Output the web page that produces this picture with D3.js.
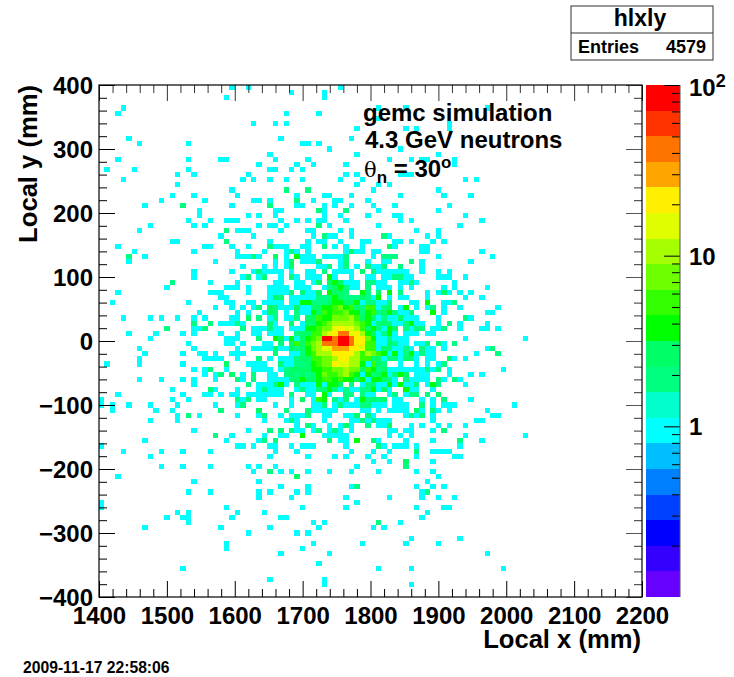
<!DOCTYPE html>
<html>
<head>
<meta charset="utf-8">
<script src="https://cdn.jsdelivr.net/npm/d3@7"></script>
<style>
  html, body { margin: 0; padding: 0; background: #fff; }
  text { font-family: "Liberation Sans", Arial, sans-serif; font-weight: bold; fill: #000; }
</style>
</head>
<body>
<svg id="visualization" width="734" height="677"></svg>
<script>
// histogram is 100 x 100 bins, 8 mm each way
var nBins = 100;
var xRange = [1400, 2200];
var yRange = [-400, 400];
var zRange = [0.1, 100];

var xMajorTicks = [1400, 1500, 1600, 1700, 1800, 1900, 2000, 2100, 2200];
var yMajorTicks = [-400, -300, -200, -100, 0, 100, 200, 300, 400];
var zMajorTicks = [1, 10];
var zMinorTicks = [0.2, 0.3, 0.4, 0.5, 0.6, 0.7, 0.8, 0.9, 2, 3, 4, 5, 6, 7, 8, 9, 20, 30, 40, 50, 60, 70, 80, 90];

// bottom to top of the palette
var paletteColors = [
  "#6600ff", "#3300ff", "#0000ff", "#0040ff", "#0080ff", "#00bfff", "#00ffff",
  "#00ffcc", "#00ff80", "#00ff66", "#00ff00", "#33ff00", "#6eff00", "#a5ff00",
  "#dfff00", "#ffef00", "#ffa500", "#ff7300", "#ff3300", "#ff0000"
];

// one string per row from the top (y = 400 downward)
// each token is a column index, "col:n" when the bin holds more than one entry
var binRows = [
  "24 27 44",
  "35 41",
  "23 41",
  "",
  "4 51 56 71",
  "3 34 40",
  "51",
  "28 32 34 64",
  "47 56 58 64",
  "",
  "5 33 46",
  "7 16 37 38 40",
  "42 55",
  "31 47 62",
  "3 16 22 23 32 38 53 57 59 60 65",
  "29 36 39 45 65",
  "1 6 16 31 32 35 37",
  "14 17 27 45 47 55 56 57",
  "4 26 28 31 34 37 44 48 67 69",
  "14 47 51 53",
  "24 34:2 38:2 50 62",
  "13 17 25 36 41 42 46 55 63 68",
  "11 19 28 29 31 36:2 39 43 44 49",
  "8 15:2 24 31:2 36 37 41 43 46 50 54 64",
  "18 32 33 40:2 41 45:2 51 62",
  "18 27 29 32 41 44 49 54 55 67",
  "16 20 23 24 25 33 36 38 40 41 45 55 57 70",
  "9 17 19 29 31 32 34 40:2 42 51 66",
  "7 23:2 25 26 27 33 38 39 44 46 58 62",
  "22 28 39 41:2 42 43 46 52:2 53 60 62",
  "13 14 23:2 31 38 40 41 44 48 49 54 55 57 61 63",
  "3 19 20 24 27 31:2 32 33 34 37 38 41:2 43 45 48 53:3 54 59 60",
  "6 17 25 30 34 35:2 36 38 45 46:3 47 48 50 51 59 60 70",
  "5:2 8 25 26 27 28:2 29 32:3 34 36:4 37 38 39 41 42 43 44 45:2 50 52:2 53:2 54:2 62 72",
  "5 21 32 34 35:3 37 38 39 40:2 44 45:2 49 52 53 57:2 59 68",
  "26 30 32 34 35:3 40 41 42:2 44 45:2 47 49:2 50 51 52:2 55:2 59",
  "17 24 28 29:2 30 31 32 33 35 38 39 41:2 43 44 45 46 48:3 50:2 51 52 53 54 55 56 59 62 64",
  "17 26 27:2 29 30:2 33 35:2 36 38 39 40 42:4 43 46 49 50 52 53 54:2 55:2 56 57 62 63 64 67",
  "13:2 20 25 32 33 36 37 39 40:3 42:3 43:4 44:3 45 46 47 49:2 50:2 51 52 55 56 57:2 58 65",
  "12 23 24 25 27 31 32 33 34 36 37 38 41 42:2 43:3 44:4 45:2 46 47 49:2 51 52 53 55 57 63 65 71",
  "3 20 21 22 27 31 32 33 34 35:2 37:2 38 39 40:3 42:4 43:3 44:3 45:2 48:4 49:2 51:3 53:4 55:2 60 62 63:3 64 66 68",
  "22 23 31 32:3 33:2 35 36 37 38 39 40:2 41:2 42:2 43:4 44:3 45:2 46:2 47:2 48:3 49:2 50 51:4 53 55 56 60 67 70",
  "2 16 23 24 27 28 30 31 32 33 35 36 37:4 38:4 39:2 40:2 41:2 42:3 43:4 44:4 45:3 46:3 47:4 48 49:2 50:2 51 52 53:2 57 58 60:4 63 64 65:2",
  "21 24 26 28 29:2 31:3 32:2 33 34 35 36:3 37 38 39:3 40:3 41:4 42:4 43:5 44:7 45:4 46:5 47:3 48:2 49:5 50:6 51 52:2 53:3 55 56:4 58 60 61:2 63 66 73",
  "18 25 27 30 31:3 32:2 34 36:2 37 38 39:4 40:3 41:5 42:4 43:6 44:5 45:8 46:4 47:4 48:2 49:4 50:5 51:2 52:3 53:4 54:2 55 56 57:2 61:4 63 71 72",
  "4 9 11 14 17 19 24 25 27:3 29:2 31 32:2 34 35 36:2 38:3 39:3 40:5 41:4 42:4 43:7 44:7 45:8 46:9 47:5 48:3 49:4 50:3 51 52:2 53 54 55:3 56 57 58 62 67:2 68",
  "17:2 20:2 22 23 24 25:2 26 31:2 32 35:3 37 38:3 39:3 40:4 41:5 42:8 43:9 44:9 45:11 46:9 47:7 48:5 49:4 50 51:2 52:3 53:2 54 55 56:2 57:4 58 59 62 64:2 66 71",
  "12:2 17 18 19:2 26:2 28 29 30 31:2 32 33 35 36 37 38:4 39:4 40:5 41:7 42:8 43:14 44:18 45:13 46:14 47:10 48:6 49:3 50:4 51:2 52 53:4 54:3 56:2 57 58:2 59:2 61 62 63:2 66 70 71 73",
  "5 10 15 17 22 25 28 29 31 32 33 36:2 37:3 38:3 39:5 40:6 41:10 42:14 43:20 44:38 45:38 46:16 47:20 48:12 49:4 50:3 51 52:2 53:4 54 56 57 58 60 61",
  "9 23 24 25 29:2 32:4 33:3 34 35:4 36 37:3 38:4 39:6 40:8 41:80 42:80 43:40 44:80 45:80 46:40 47:20 48:19 49:7 50:4 51 52 53:2 54 55 56 67 78",
  "16 23 24 26 30 31 33:2 35:3 36:5 37:3 38:5 39:7 40:12 41:40 42:40 43:45 44:80 45:80 46:38 47:18 48:18 49:6 50:5 51 52 53:3 54:2 55 56 58 59 60:2 62:2 63 65:2",
  "7 17 25 28 29 30 31 32:3 33 34 35:3 36:2 37:3 38:4 39:7 40:9 41:14 42:14 43:28 44:28 45:30 46:20 47:19 48:15 49:5 50:6 51 52:3 53:2 54 55 56:2 57 59:2 60 61 63 71 72:2",
  "8 15 18 19 21 24 25 26 32:2 35 36 37:2 38:4 39:6 40:9 41:9 42:12 43:20 44:20 45:19 46:20 47:12 48:5 49:9 50:7 51:5 52:4 53 54:4 55 56:2 57:4 58 59:2 60 61 69 73:2",
  "7 19 20 21 22 25 29:2 31 33 34 35 36:2 37:3 38:3 39:5 40:5 41:7 42:8 43:10 44:19 45:19 46:9 47:10 48:5 49:5 50:3 51:3 52 53:2 54:2 55 56:3 57:2 58 60 61 64:3 65 67",
  "1 7 15 23:3 27 28 29 30 33:2 34 35 36:2 37:2 38:3 39:4 40:5 41:7 42:8 43:19 44:14 45:14 46:9 47:10 48:4 49 50:5 51:3 52:2 55 58 60 62 63:2",
  "17 19 20:2 23 28 29 30 31 33 34:2 35:3 36:3 37:3 38:3 39:4 40:4 41:5 42:5 43:8 44:7 45:10 46:7 47:7 48:3 49:5 50:4 51:2 52:3 53 54 55 56 57 58 59 60:2 61 62:2 64 74",
  "19 21 22:2 24:3 26 28:2 31 32 34:2 35:3 36:2 37:3 38:2 39:3 40:4 41:7 42:5 43:5 44:7 45:9 46:5 47:4 48 49:4 50:2 51:3 52:4 53 54:2 55:4 56:3 58 59 60 64 68 70",
  "7 11 15 17 21 25:2 26 28:2 31 32 33 34 35:2 36:3 37:4 38:3 39:3 40:4 41:5 42:6 43:4 44:6 45:4 46:4 47:3 48:4 49 50:4 51:4 52:3 53:2 54 56:2 57 58 59 60 62:2 63 65:2 66",
  "17 27:2 29 30 31 32:2 33:4 34 36:2 37 38 39 40:4 41 42:4 43:4 44:3 46:2 48 49:2 50:3 51 52 53:4 54 55:4 56 57 58:2 60 61:4 62:2 67",
  "13 20:2 21 25 29 30:2 31 32 33 36 37:2 38 39 40:2 41:3 42:4 43:2 44 45:2 46 47 48:2 49:2 50:4 51 52:3 53 56:4 57 58 61",
  "3 15 19 20 22 24 25 27 28 29 30 31 32 33 35:2 38 39 41:4 42 45:2 46:2 48:2 49 50 53 54:2 56 57:2 58:2 60:2 62:3",
  "0 13 16 25:2 26 27:2 29 30 35 37:3 39 40:5 41:4 43:2 44 45:2 47 48:4 49:2 50:3 51:2 52:3 54 55 59 61 63:2 68",
  "0 2 5 9 14 21 25 26:2 32 35 39 40 41:2 43 44:2 45 46 47 48:2 49:2 50 51 52 54 55 56 59:2 61 63 64 65 76",
  "2 10 13 22:2 29:3 34:2 38:2 39 40 41 42 43 48 49 51 53 54 55 56 58:3 59 61:2 62 64 71",
  "14 16:2 18 25 29 30:2 33 35 36 37 38:2 41 42 45 46 47:3 49:2 50 56 57:2 58 59:2 61 72 73",
  "9 14 30 34 35:2 36 41 46 47 48:2 49 50:2 51 52 53 61 69 70",
  "36 38:2 39 42 44 45:3 46 49:2 51 52 53:3 57 59 62 64 67",
  "17 27 31:2 33:2 35:2 36 37 39 40:2 42 43:2 44 46 53 54 56 57 61 63:2",
  "21:2 24 30 33 34 37:4 41 42 43 44 45 53 55 57 67 78",
  "8 23 29 30:2 32:2 42:2 44 45 47:4 50:2 51 56 61 66:2 70",
  "0 25 26 28 31 32 35 37 38 39 45 51:2 52 54 55 56 58 66",
  "4 11 15 20 32 36 46 50 53 58:2 61 62 63 64",
  "9 31 38 43 45 49 52 58 65 66",
  "50 53 56:3 61",
  "11 15 20 27 29 32 47 56:2",
  "28 31:2 33 35 38 42 46 51 58 61",
  "3 36:3 62",
  "17 29 60",
  "33 38 46 47:2 58 61 63",
  "16 20 29 31 36 38 59 60:2",
  "29 35 45 53 59 62 65",
  "0 47",
  "0 23 37 45 58 63 64",
  "14 16 25 30 60",
  "12 15 16 24 33 34 59",
  "16 39 41 51:2 55",
  "8 22 31 40 50 52",
  "27 36 38",
  "57 66",
  "23 39 48 56 62",
  "23 37",
  "33 42 71",
  "",
  "40",
  "15 51 57 74",
  "",
  "31 41",
  "41 57",
  "",
  ""
];

var svg = d3.select("#visualization");

// frame and palette geometry in page pixels
var plot = { left: 99, right: 642, top: 85, bottom: 597 };
var pal = { left: 646, right: 680 };

var xScale = d3.scaleLinear().domain(xRange).range([plot.left, plot.right]);
var yScale = d3.scaleLinear().domain(yRange).range([plot.bottom, plot.top]);
var zScale = d3.scaleLog().domain(zRange).range([plot.bottom, plot.top]);

// 20 contours, even in log z
var colorScale = d3.scaleQuantize()
  .domain([Math.log10(zRange[0]), Math.log10(zRange[1])])
  .range(paletteColors);

var xBin = (xRange[1] - xRange[0]) / nBins;
var yBin = (yRange[1] - yRange[0]) / nBins;

// unpack the rows into bins
var bins = [];
binRows.forEach(function(row, r) {
  if (row == "") return;
  row.split(" ").forEach(function(token) {
    var parts = token.split(":");
    bins.push({
      x0: xRange[0] + (+parts[0]) * xBin,
      y1: yRange[1] - r * yBin,
      count: parts.length > 1 ? +parts[1] : 1
    });
  });
});

// white background
svg.append("rect").attr("width", 734).attr("height", 677).attr("fill", "#fff");

// the cells
svg.append("g").attr("shape-rendering", "crispEdges")
  .selectAll("rect").data(bins).enter().append("rect")
  .attr("x", function(d) { return xScale(d.x0); })
  .attr("y", function(d) { return yScale(d.y1); })
  .attr("width", function(d) { return xScale(d.x0 + xBin) - xScale(d.x0); })
  .attr("height", function(d) { return yScale(d.y1 - yBin) - yScale(d.y1); })
  .attr("fill", function(d) { return colorScale(Math.log10(d.count)); });

// palette bands
var logStep = 3 / paletteColors.length;
svg.append("g").attr("shape-rendering", "crispEdges")
  .selectAll("rect").data(paletteColors).enter().append("rect")
  .attr("x", pal.left)
  .attr("width", pal.right - pal.left)
  .attr("y", function(d, i) { return zScale(Math.pow(10, -1 + (i + 1) * logStep)); })
  .attr("height", function(d, i) {
    return zScale(Math.pow(10, -1 + i * logStep)) - zScale(Math.pow(10, -1 + (i + 1) * logStep));
  })
  .attr("fill", function(d) { return d; });

// returns every 20 mm between major ticks
function minorTicks(domain) {
  var out = [];
  for (var v = domain[0]; v <= domain[1]; v += 20) {
    if (v % 100 != 0) out.push(v);
  }
  return out;
}

function styleAxis(g, color) {
  g.select(".domain").remove();
  g.selectAll("line").attr("stroke", color || "#000").attr("stroke-width", 1);
}

var majorLen = 16;
var minorLen = 8;

// bottom + top x ticks
svg.append("g").attr("transform", "translate(0," + plot.bottom + ")")
  .call(d3.axisBottom(xScale).tickValues(xMajorTicks).tickSizeInner(-majorLen).tickSizeOuter(0).tickPadding(9).tickFormat(d3.format("d")))
  .call(styleAxis)
  .selectAll("text").attr("font-size", 24).attr("dy", "0.74em");
svg.append("g").attr("transform", "translate(0," + plot.bottom + ")")
  .call(d3.axisBottom(xScale).tickValues(minorTicks(xRange)).tickSizeInner(-minorLen).tickSizeOuter(0).tickFormat(""))
  .call(styleAxis);
svg.append("g").attr("transform", "translate(0," + plot.top + ")")
  .call(d3.axisTop(xScale).tickValues(xMajorTicks).tickSizeInner(-majorLen).tickSizeOuter(0).tickFormat(""))
  .call(styleAxis, "#333");
svg.append("g").attr("transform", "translate(0," + plot.top + ")")
  .call(d3.axisTop(xScale).tickValues(minorTicks(xRange)).tickSizeInner(-minorLen).tickSizeOuter(0).tickFormat(""))
  .call(styleAxis, "#333");

// left + right y ticks
svg.append("g").attr("transform", "translate(" + plot.left + ",0)")
  .call(d3.axisLeft(yScale).tickValues(yMajorTicks).tickSizeInner(-majorLen).tickSizeOuter(0).tickPadding(6).tickFormat(d3.format("d")))
  .call(styleAxis)
  .selectAll("text").attr("font-size", 24).attr("dy", "0.35em");
svg.append("g").attr("transform", "translate(" + plot.left + ",0)")
  .call(d3.axisLeft(yScale).tickValues(minorTicks(yRange)).tickSizeInner(-minorLen).tickSizeOuter(0).tickFormat(""))
  .call(styleAxis);
svg.append("g").attr("transform", "translate(" + plot.right + ",0)")
  .call(d3.axisRight(yScale).tickValues(yMajorTicks).tickSizeInner(-majorLen).tickSizeOuter(0).tickFormat(""))
  .call(styleAxis, "#555");
svg.append("g").attr("transform", "translate(" + plot.right + ",0)")
  .call(d3.axisRight(yScale).tickValues(minorTicks(yRange)).tickSizeInner(-minorLen).tickSizeOuter(0).tickFormat(""))
  .call(styleAxis, "#333");

// palette axis, ticks point inward from its right edge
svg.append("g").attr("transform", "translate(" + pal.right + ",0)")
  .call(d3.axisRight(zScale).tickValues(zMajorTicks.concat([100])).tickSizeInner(-16).tickSizeOuter(0).tickFormat(""))
  .call(styleAxis);
svg.append("g").attr("transform", "translate(" + pal.right + ",0)")
  .call(d3.axisRight(zScale).tickValues(zMinorTicks).tickSizeInner(-8).tickSizeOuter(0).tickFormat(""))
  .call(styleAxis);
svg.append("line")
  .attr("x1", pal.right).attr("x2", pal.right).attr("y1", plot.top).attr("y2", plot.bottom)
  .attr("stroke", "#555");

zMajorTicks.forEach(function(z) {
  svg.append("text")
    .attr("x", pal.right + 9)
    .attr("y", zScale(z) + 9)
    .attr("font-size", 24)
    .text(z);
});
var zTop = svg.append("text")
  .attr("x", pal.right + 9)
  .attr("y", zScale(100) + 11)
  .attr("font-size", 24)
  .text("10");
zTop.append("tspan").attr("font-size", 18).attr("dy", -9).text("2");

// frame
svg.append("rect")
  .attr("x", plot.left).attr("y", plot.top)
  .attr("width", plot.right - plot.left).attr("height", plot.bottom - plot.top)
  .attr("fill", "none").attr("stroke", "#000").attr("stroke-width", 1.2);

// axis titles
svg.append("text")
  .attr("x", 641).attr("y", 648)
  .attr("text-anchor", "end").attr("font-size", 25.6)
  .text("Local x (mm)");
svg.append("text")
  .attr("transform", "translate(37,85) rotate(-90)")
  .attr("text-anchor", "end").attr("font-size", 25.6)
  .text("Local y (mm)");

// annotation
svg.append("text").attr("x", 363).attr("y", 121).attr("font-size", 24).text("gemc simulation");
svg.append("text").attr("x", 365).attr("y", 148).attr("font-size", 24).text("4.3 GeV neutrons");
var theta = svg.append("text").attr("x", 364).attr("y", 177).attr("font-size", 24);
theta.append("tspan").style("font-weight", "normal").style("font-family", "'DejaVu Serif', serif").attr("font-size", 21).text("θ");
theta.append("tspan").attr("font-size", 17).attr("dy", 6).text("n");
theta.append("tspan").attr("dy", -6).text(" = 30");
theta.append("tspan").attr("font-size", 17).attr("dy", -9).text("o");

// stats box
var boxG = svg.append("g");
boxG.append("rect")
  .attr("x", 571).attr("y", 6).attr("width", 142).attr("height", 54)
  .attr("fill", "#fff").attr("stroke", "#333").attr("stroke-width", 1);
boxG.append("line")
  .attr("x1", 571).attr("x2", 713).attr("y1", 33).attr("y2", 33)
  .attr("stroke", "#333");
boxG.append("text").attr("x", 640).attr("y", 26).attr("text-anchor", "middle").attr("font-size", 23).text("hlxly");
boxG.append("text").attr("x", 578).attr("y", 53).attr("font-size", 18).text("Entries");
boxG.append("text").attr("x", 706).attr("y", 53).attr("text-anchor", "end").attr("font-size", 18).text("4579");

// timestamp
svg.append("text").attr("x", 23).attr("y", 673).attr("font-size", 15.7).text("2009-11-17 22:58:06");
</script>
</body>
</html>
